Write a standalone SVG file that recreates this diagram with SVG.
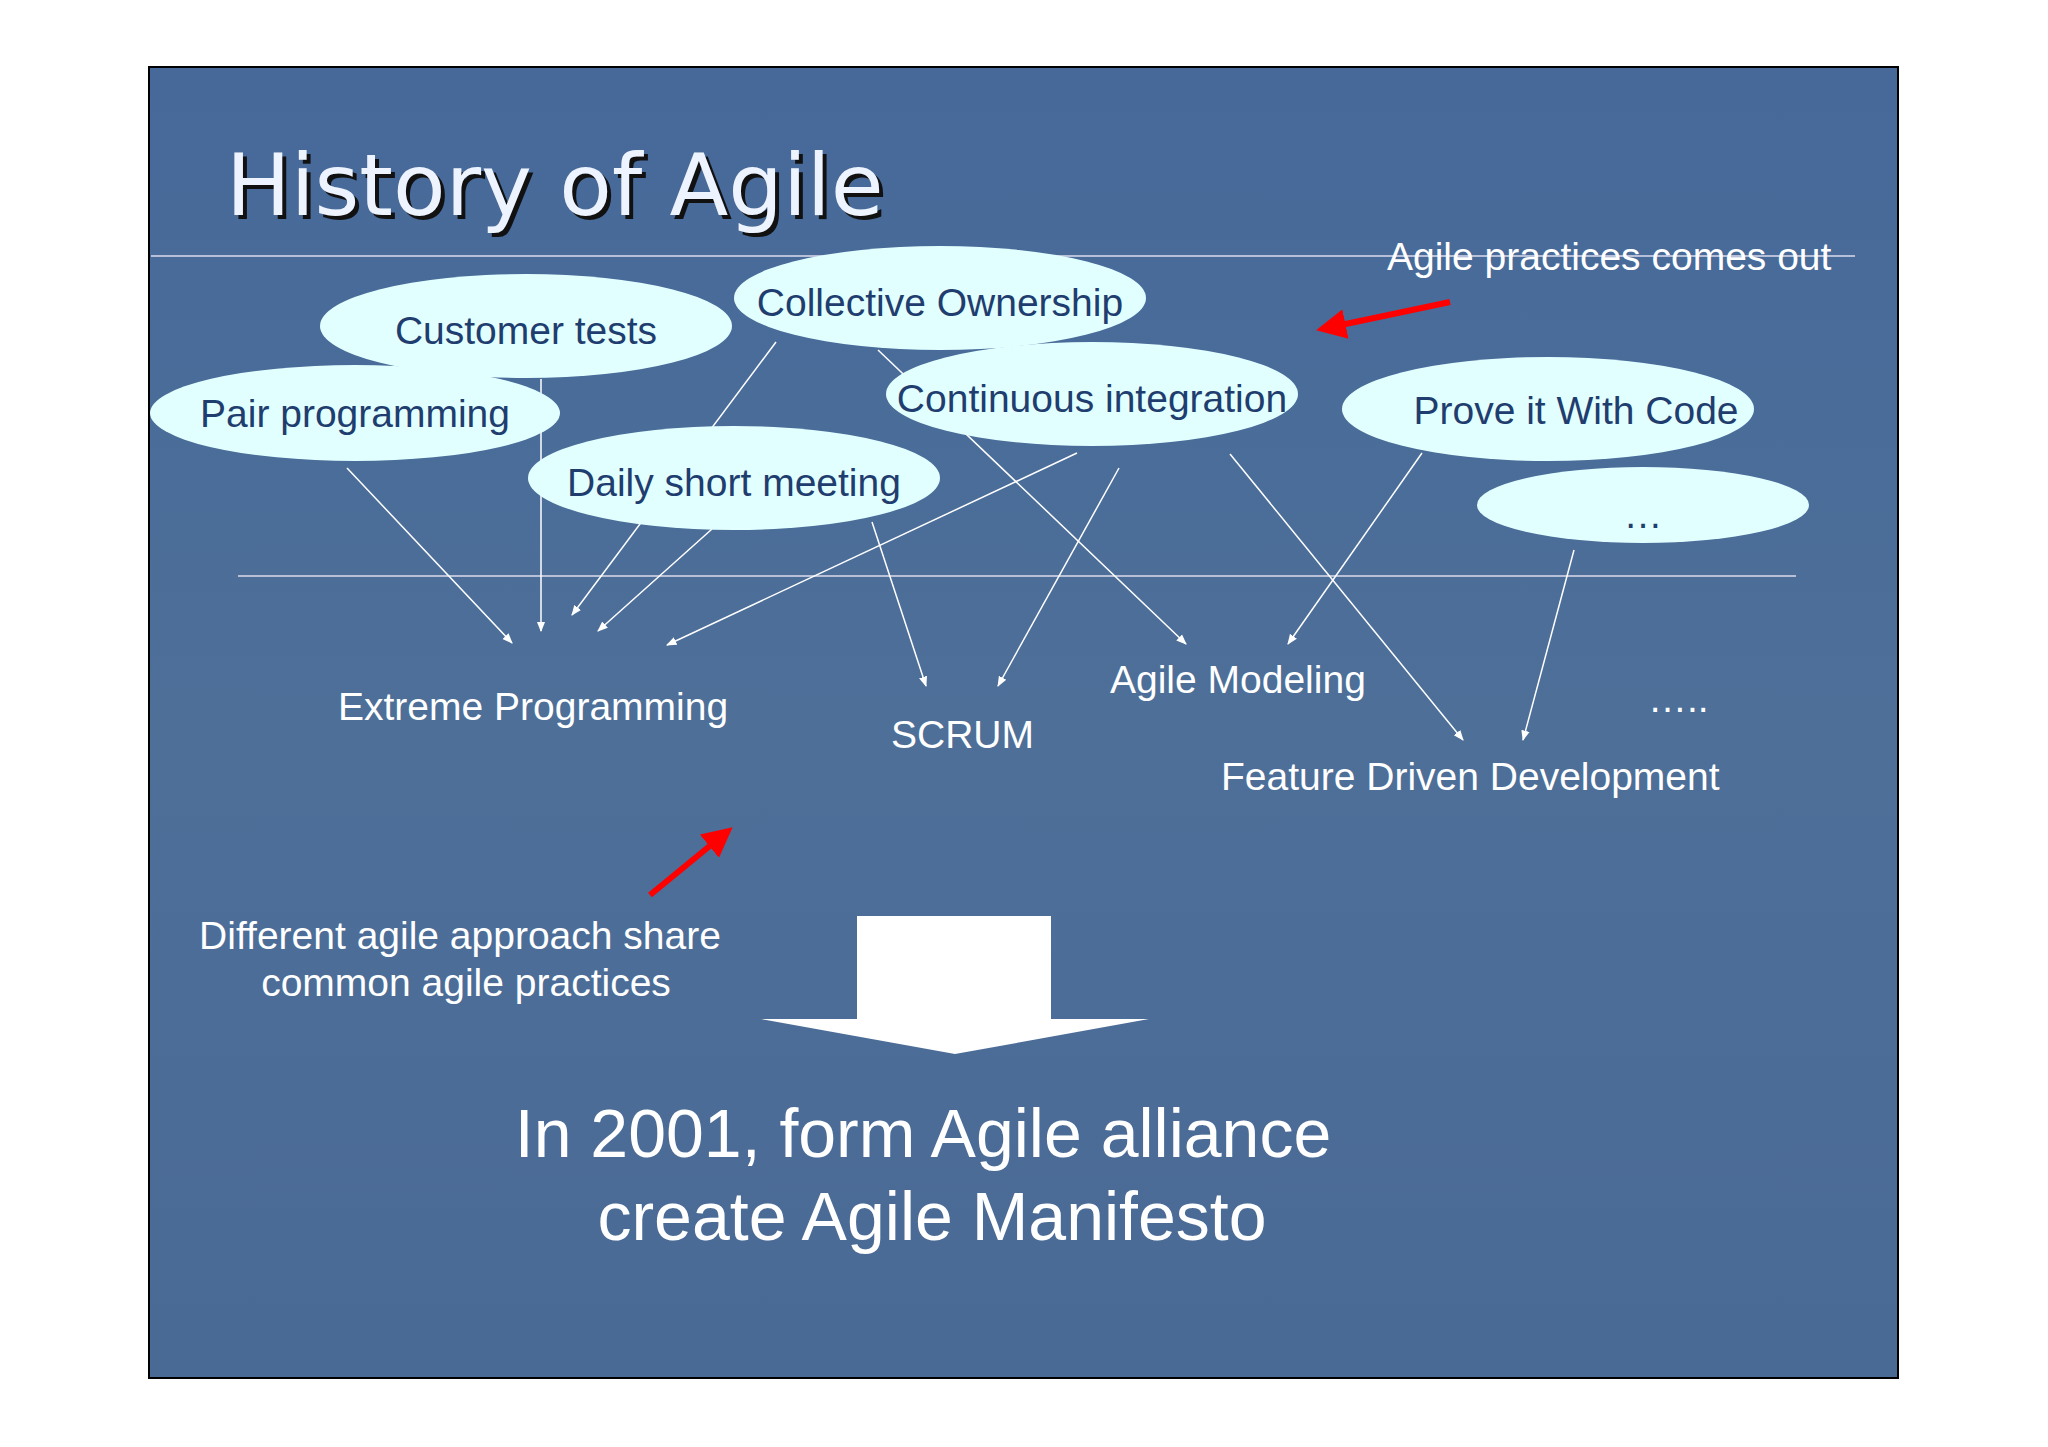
<svg xmlns="http://www.w3.org/2000/svg" width="2048" height="1447" viewBox="0 0 2048 1447">
<defs>
<linearGradient id="bg" x1="0" y1="0" x2="0" y2="1"><stop offset="0" stop-color="#46699a"/><stop offset="0.5" stop-color="#4d6f98"/><stop offset="1" stop-color="#4a6a96"/></linearGradient>
<marker id="ah" viewBox="0 0 10 10" refX="9" refY="5" markerWidth="7" markerHeight="7" orient="auto"><path d="M0,1 L10,5 L0,9 z" fill="#fff"/></marker>
<marker id="rh" viewBox="0 0 10 10" refX="8" refY="5" markerWidth="5" markerHeight="5" orient="auto"><path d="M0,0 L10,5 L0,10 z" fill="#f00"/></marker>
</defs>
<style>
.e{fill:#e2ffff}
.et{font-family:"Liberation Sans",Arial,sans-serif;font-size:39px;fill:#1f3d6e;text-anchor:middle}
.l{font-family:"Liberation Sans",Arial,sans-serif;font-size:39px;fill:#fff}
.c{stroke:#fff;stroke-width:1.5;fill:none;marker-end:url(#ah)}
</style>
<rect width="2048" height="1447" fill="#fff"/>
<rect x="149" y="67" width="1749" height="1311" fill="url(#bg)" stroke="#000" stroke-width="2"/>
<text x="230" y="219" font-family="Verdana,'DejaVu Sans',sans-serif" font-size="86" fill="#111">History of Agile</text>
<text x="226" y="215" font-family="Verdana,'DejaVu Sans',sans-serif" font-size="86" fill="#eef4ff">History of Agile</text>
<line x1="151" y1="256" x2="1855" y2="256" stroke="#dde" stroke-width="1.5"/>
<line x1="238" y1="576" x2="1796" y2="576" stroke="#dde" stroke-width="1.5"/>
<g id="connectors">
<line class="c" x1="347" y1="468" x2="512" y2="643"/>
<line class="c" x1="541" y1="379" x2="541" y2="631"/>
<line class="c" x1="776" y1="342" x2="572" y2="615"/>
<line class="c" x1="712" y1="529" x2="598" y2="631"/>
<line class="c" x1="1077" y1="453" x2="667" y2="645"/>
<line class="c" x1="872" y1="522" x2="926" y2="686"/>
<line class="c" x1="1119" y1="468" x2="998" y2="686"/>
<line class="c" x1="878" y1="350" x2="1186" y2="644"/>
<line class="c" x1="1230" y1="454" x2="1463" y2="740"/>
<line class="c" x1="1422" y1="453" x2="1288" y2="644"/>
<line class="c" x1="1574" y1="550" x2="1523" y2="740"/>
<line x1="1450" y1="302" x2="1322" y2="329" stroke="#f00" stroke-width="6" marker-end="url(#rh)"/>
<line x1="650" y1="895" x2="728" y2="831" stroke="#f00" stroke-width="6" marker-end="url(#rh)"/>
</g>
<g id="customer"><ellipse class="e" cx="526" cy="326" rx="206" ry="52"/><text class="et" x="526" y="344">Customer tests</text></g>
<g id="collective"><ellipse class="e" cx="940" cy="298" rx="206" ry="52"/><text class="et" x="940" y="316">Collective Ownership</text></g>
<g id="pair"><ellipse class="e" cx="355" cy="413" rx="205" ry="48"/><text class="et" x="355" y="427">Pair programming</text></g>
<g id="daily"><ellipse class="e" cx="734" cy="478" rx="206" ry="52"/><text class="et" x="734" y="496">Daily short meeting</text></g>
<g id="continuous"><ellipse class="e" cx="1092" cy="394" rx="206" ry="52"/><text class="et" x="1092" y="412">Continuous integration</text></g>
<g id="prove"><ellipse class="e" cx="1548" cy="409" rx="206" ry="52"/><text class="et" x="1576" y="424">Prove it With Code</text></g>
<g id="more"><ellipse class="e" cx="1643" cy="505" rx="166" ry="38"/><text class="et" x="1643" y="528">…</text></g>
<g id="labels">
<text class="l" x="338" y="720">Extreme Programming</text>
<text class="l" x="891" y="748">SCRUM</text>
<text class="l" x="1110" y="693">Agile Modeling</text>
<text class="l" x="1221" y="790">Feature Driven Development</text>
<text class="l" x="1648" y="712">…..</text>
<text class="l" x="1387" y="270">Agile practices comes out</text>
<text class="l" x="460" y="949" text-anchor="middle">Different agile approach share</text>
<text class="l" x="466" y="996" text-anchor="middle">common agile practices</text>
</g>
<g id="blockarrow"><path d="M857,916 H1051 V1019 H1149 L955,1054 L761,1019 H857 Z" fill="#fff"/></g>
<text x="923" y="1157" font-family="'Liberation Sans',Arial,sans-serif" font-size="68" fill="#fff" text-anchor="middle">In 2001, form Agile alliance</text>
<text x="932" y="1240" font-family="'Liberation Sans',Arial,sans-serif" font-size="68" fill="#fff" text-anchor="middle">create Agile Manifesto</text>
</svg>
